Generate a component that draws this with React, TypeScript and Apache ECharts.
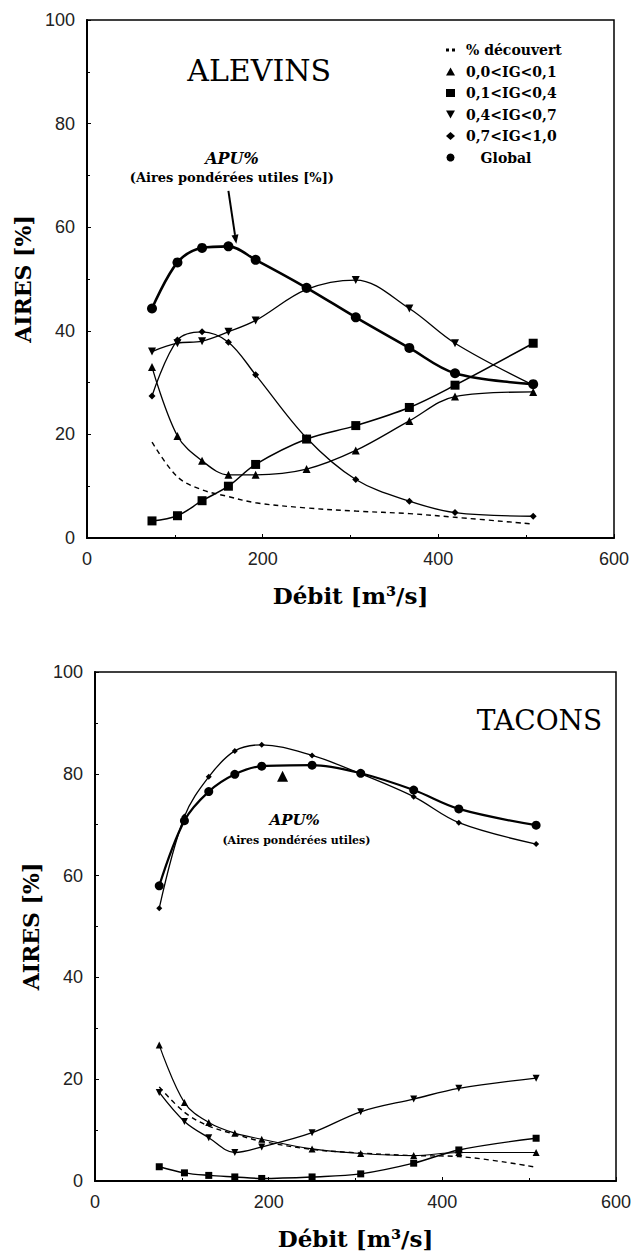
import React, { useEffect, useRef } from "react";
import * as echarts from "echarts";

// Débit [m3/s] of the sampled points (shared by both panels)
const debit = [74, 103, 131, 161, 192, 250, 306, 367, 419, 508];

// ALEVINS panel
const decouvertA = [18.5, 11.8, 9.3, 8.0, 6.8, 5.8, 5.2, 4.7, 4.0, 2.7];
const ig01A = [33, 19.7, 14.9, 12.2, 12.2, 13.3, 16.9, 22.6, 27.3, 28.2];
const ig14A = [3.3, 4.3, 7.2, 10, 14.2, 19.1, 21.7, 25.2, 29.5, 37.6];
const ig47A = [36, 37.6, 38, 39.8, 42, 48, 49.8, 44.3, 37.6, 29.5];
const ig71A = [27.4, 38.2, 39.8, 37.8, 31.5, 19.3, 11.3, 7.1, 4.9, 4.2];
const globalA = [44.3, 53.2, 56, 56.3, 53.7, 48.3, 42.6, 36.7, 31.8, 29.7];

// TACONS panel
const decouvertB = [18.5, 13.5, 10.8, 9.2, 7.8, 6.2, 5.5, 5.0, 4.8, 2.7];
const ig01B = [26.7, 15.4, 11.5, 9.4, 8.2, 6.3, 5.4, 5.0, 5.6, 5.6];
const ig14B = [2.8, 1.6, 1.1, 0.8, 0.5, 0.8, 1.4, 3.5, 6.1, 8.4];
const ig47B = [17.4, 11.7, 8.5, 5.6, 6.7, 9.5, 13.6, 16.1, 18.2, 20.2];
const ig71B = [53.6, 71.6, 79.4, 84.5, 85.7, 83.6, 80, 75.5, 70.4, 66.2];
const globalB = [58, 70.8, 76.5, 79.9, 81.5, 81.7, 80.1, 76.8, 73.1, 69.9];
const repereB = [[216, 79.5]];

const xTicks = [0, 200, 400, 600];
const yTicks = [0, 20, 40, 60, 80, 100];

const names = ["% découvert", "0,0<IG<0,1", "0,1<IG<0,4", "0,4<IG<0,7", "0,7<IG<1,0", "Global"];

const SERIF = "DejaVu Serif";
const SANS = "Liberation Sans";
const TRI_DOWN = "path://M0,0L10,0L5,9Z";

function pairs(ys: number[]) {
  return debit.map((x, i) => [x, ys[i]]);
}

function lineSeries(
  name: string,
  ys: number[],
  idx: number,
  symbol: string,
  size: number,
  width: number,
  dashed = false
) {
  return {
    type: "line",
    name,
    xAxisIndex: idx,
    yAxisIndex: idx,
    data: pairs(ys),
    smooth: 0.35,
    symbol,
    symbolSize: size,
    showSymbol: symbol !== "none",
    color: "#000",
    itemStyle: { color: "#000", opacity: 1 },
    lineStyle: { color: "#000", width, type: dashed ? [5, 4] : "solid" },
    z: name === "Global" ? 4 : 3,
  };
}

export default function App() {
  const ref = useRef<HTMLDivElement>(null);
  useEffect(() => {
    if (!ref.current) return;
    const chart = echarts.init(ref.current, null, { renderer: "svg" });

    const grids = [
      { left: 87, top: 20, width: 527, height: 518 },
      { left: 95, top: 672, width: 521, height: 509 },
    ];

    const xAxis = grids.map((_, i) => ({
      type: "value",
      gridIndex: i,
      min: xTicks[0],
      max: xTicks[xTicks.length - 1],
      interval: xTicks[1] - xTicks[0],
      name: "Débit [m³/s]",
      nameLocation: "middle",
      nameGap: 46,
      nameTextStyle: { fontFamily: SERIF, fontSize: 23, fontWeight: "bold", color: "#000" },
      axisLine: { show: true, lineStyle: { color: "#000", width: 2 } },
      axisTick: { show: true, inside: true, length: 4, lineStyle: { color: "#000" } },
      minorTick: { show: true, splitNumber: 2, length: 3, lineStyle: { color: "#000" } },
      splitLine: { show: false },
      axisLabel: { fontFamily: SANS, fontSize: 18, color: "#222", margin: 12 },
    }));

    const yAxis = grids.map((_, i) => ({
      type: "value",
      gridIndex: i,
      min: yTicks[0],
      max: yTicks[yTicks.length - 1],
      interval: yTicks[1] - yTicks[0],
      name: "AIRES [%]",
      nameLocation: "middle",
      nameRotate: 90,
      nameGap: 47,
      nameTextStyle: { fontFamily: SERIF, fontSize: 22, fontWeight: "bold", color: "#000" },
      axisLine: { show: true, lineStyle: { color: "#000", width: 2 } },
      axisTick: { show: true, inside: true, length: 4, lineStyle: { color: "#000" } },
      minorTick: { show: true, splitNumber: 2, length: 3, lineStyle: { color: "#000" } },
      splitLine: { show: false },
      axisLabel: { fontFamily: SANS, fontSize: 18, color: "#222", margin: 12 },
    }));

    const series: any[] = [
      lineSeries(names[0], decouvertA, 0, "none", 0, 1.4, true),
      lineSeries(names[1], ig01A, 0, "triangle", 8, 1.3),
      lineSeries(names[2], ig14A, 0, "rect", 9, 1.5),
      lineSeries(names[3], ig47A, 0, TRI_DOWN, 8, 1.3),
      lineSeries(names[4], ig71A, 0, "diamond", 7, 1.3),
      lineSeries(names[5], globalA, 0, "circle", 10, 2.6),
      lineSeries(names[0], decouvertB, 1, "none", 0, 1.4, true),
      lineSeries(names[1], ig01B, 1, "triangle", 7, 1.2),
      lineSeries(names[2], ig14B, 1, "rect", 7, 1.4),
      lineSeries(names[3], ig47B, 1, TRI_DOWN, 7, 1.3),
      lineSeries(names[4], ig71B, 1, "diamond", 6, 1.3),
      lineSeries(names[5], globalB, 1, "circle", 9, 2.2),
      {
        type: "scatter",
        name: "repère",
        xAxisIndex: 1,
        yAxisIndex: 1,
        data: repereB,
        symbol: "triangle",
        symbolSize: 11,
        itemStyle: { color: "#000", opacity: 1 },
      },
    ];

    const icons = [
      "path://M0,0h4v4h-4zM8,0h4v4h-4z",
      "triangle",
      "rect",
      TRI_DOWN,
      "diamond",
      "circle",
    ];

    chart.setOption({
      animation: false,
      backgroundColor: "#fff",
      grid: grids.map((g) => ({
        ...g,
        show: true,
        borderColor: "#000",
        borderWidth: 1.5,
        backgroundColor: "transparent",
      })),
      xAxis,
      yAxis,
      legend: {
        orient: "vertical",
        left: 441,
        top: 38,
        itemWidth: 9,
        itemHeight: 8,
        itemGap: 7.5,
        selectedMode: false,
        data: names.map((n, i) => ({ name: n, icon: icons[i] })),
        formatter: (n: string) => (n === "Global" ? "   " + n : n),
        textStyle: { fontFamily: SERIF, fontSize: 14, fontWeight: "bold", color: "#000", padding: [0, 0, 0, 6] },
        itemStyle: { color: "#000" },
      },
      series,
    });

    const p = (g: number, v: number[]) => chart.convertToPixel({ gridIndex: g }, v) as number[];
    const titleA = p(0, [196, 90.3]);
    const apuA = p(0, [165, 73.3]);
    const subA = p(0, [165, 69.5]);
    const arA0 = p(0, [161, 67]);
    const arA1 = p(0, [170, 56.8]);
    const titleB = p(1, [512, 90.5]);
    const apuB = p(1, [230, 70.9]);
    const subB = p(1, [232, 66.8]);

    const dx = arA1[0] - arA0[0];
    const dy = arA1[1] - arA0[1];
    const len = Math.sqrt(dx * dx + dy * dy);
    const ux = dx / len;
    const uy = dy / len;
    const head = 9;
    const half = 3.5;
    const bx = arA1[0] - ux * head;
    const by = arA1[1] - uy * head;

    chart.setOption({
      graphic: [
        {
          type: "text",
          x: titleA[0],
          y: titleA[1],
          style: { text: "ALEVINS", font: `30px '${SERIF}'`, fill: "#000", align: "center", verticalAlign: "middle" },
        },
        {
          type: "text",
          x: titleB[0],
          y: titleB[1],
          style: { text: "TACONS", font: `28px '${SERIF}'`, fill: "#000", align: "center", verticalAlign: "middle" },
        },
        {
          type: "text",
          x: apuA[0],
          y: apuA[1],
          style: { text: "APU%", font: `italic bold 16px '${SERIF}'`, fill: "#000", align: "center", verticalAlign: "middle" },
        },
        {
          type: "text",
          x: subA[0],
          y: subA[1],
          style: {
            text: "(Aires pondérées utiles [%])",
            font: `bold 13px '${SERIF}'`,
            fill: "#000",
            align: "center",
            verticalAlign: "middle",
          },
        },
        {
          type: "text",
          x: apuB[0],
          y: apuB[1],
          style: { text: "APU%", font: `italic bold 15px '${SERIF}'`, fill: "#000", align: "center", verticalAlign: "middle" },
        },
        {
          type: "text",
          x: subB[0],
          y: subB[1],
          style: {
            text: "(Aires pondérées utiles)",
            font: `bold 11px '${SERIF}'`,
            fill: "#000",
            align: "center",
            verticalAlign: "middle",
          },
        },
        {
          type: "line",
          shape: { x1: arA0[0], y1: arA0[1], x2: bx, y2: by },
          style: { stroke: "#000", lineWidth: 2 },
        },
        {
          type: "polygon",
          shape: {
            points: [
              [arA1[0], arA1[1]],
              [bx - uy * half, by + ux * half],
              [bx + uy * half, by - ux * half],
            ],
          },
          style: { fill: "#000" },
        },
      ],
    });

    return () => chart.dispose();
  }, []);

  return (
    <div
      ref={ref}
      style={{ position: "absolute", left: 0, top: 0, width: 636, height: 1253, background: "#fff" }}
    />
  );
}
